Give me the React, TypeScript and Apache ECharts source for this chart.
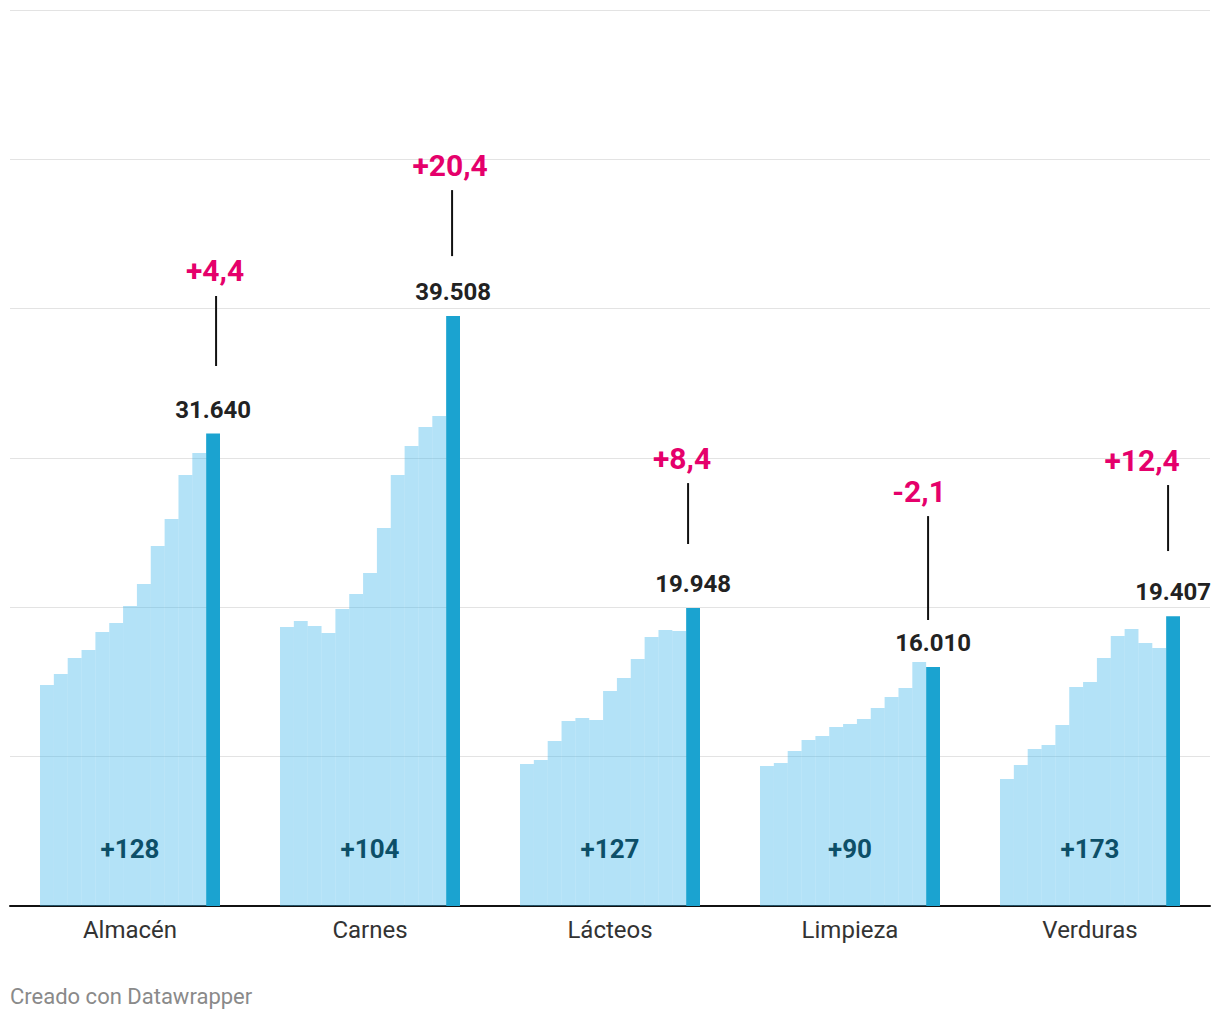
import React, { useEffect, useRef } from "react";
import * as echarts from "echarts";

const categories = ["Almacén", "Carnes", "Lácteos", "Limpieza", "Verduras"];

// 12 monthly values per category (light steps)
const almacen = [14800, 15535, 16606, 17142, 18347, 18950, 20088, 21561, 24106, 25914, 28860, 30333];
const carnes = [18682, 19084, 18749, 18280, 19887, 20892, 22298, 25311, 28860, 30802, 32074, 32810];
const lacteos = [9508, 9776, 11048, 12388, 12588, 12455, 14396, 15267, 16539, 18012, 18481, 18414];
const limpieza = [9374, 9575, 10379, 11115, 11383, 11986, 12187, 12522, 13258, 13995, 14597, 16338];
const verduras = [8504, 9441, 10513, 10781, 12120, 14664, 14999, 16606, 18079, 18548, 17610, 17276];

// latest value (dark bar)
const latest = [31640, 39508, 19948, 16010, 19407];
// percentage change (pink)
const changePct = [4.4, 20.4, 8.4, -2.1, 12.4];
// count difference (inside label)
const countDiff = [128, 104, 127, 90, 173];
// annotation connector extent, in data units
const annoBottom = [36160, 43520, 24240, 19150, 23770];
const annoTop = [40850, 47940, 28320, 26110, 28190];

const yTicks = [0, 10000, 20000, 30000, 40000, 50000, 60000];

// small visual nudges (px) of connector lines and pink labels
const lineNudge = [3, -1, -5, -5, -5];
const labelNudge = [-1, -2, -6, -9, -26];

const groups = [almacen, carnes, lacteos, limpieza, verduras];

const fmtThousands = (v: number) => String(v).replace(/\B(?=(\d{3})+(?!\d))/g, ".");
const fmtPct = (v: number) => (v > 0 ? "+" : "") + v.toFixed(1).replace(".", ",");
const fmtDiff = (v: number) => (v > 0 ? "+" : "") + v;

const LIGHT = "rgba(65,182,235,0.4)";
const DARK = "#1ba3d0";
const PINK = "#e5006b";
const FONT = "Roboto";

export default function App() {
  const ref = useRef<HTMLDivElement>(null);
  useEffect(() => {
    if (!ref.current) return;
    const chart = echarts.init(ref.current, undefined, { renderer: "svg" });
    const series: any[] = [];
    for (let i = 0; i < 12; i++) {
      const s: any = {
        type: "bar",
        name: "m" + i,
        data: groups.map((g) => g[i]),
        barGap: "0%",
        barCategoryGap: "25%",
        itemStyle: { color: LIGHT },
        silent: true,
      };
      if (i === 6) {
        s.z = 3;
        s.label = {
          show: true,
          position: "insideBottom",
          distance: 44,
          formatter: (p: any) => fmtDiff(countDiff[p.dataIndex]),
          color: "#0d4f68",
          fontSize: 26,
          fontWeight: "bold",
          fontFamily: FONT,
        };
      }
      series.push(s);
    }
    series.push({
      type: "bar",
      name: "latest",
      data: latest,
      barGap: "0%",
      barCategoryGap: "25%",
      itemStyle: { color: DARK },
      silent: true,
      z: 4,
      label: {
        show: true,
        position: "top",
        distance: 12,
        formatter: (p: any) => fmtThousands(p.value),
        color: "#222222",
        fontSize: 24,
        fontWeight: "bold",
        fontFamily: FONT,
      },
    });
    series.push({
      type: "custom",
      name: "annotations",
      z: 5,
      silent: true,
      clip: false,
      encode: { x: 0, y: [1, 2] },
      data: categories.map((c, k) => [k, annoBottom[k], annoTop[k]]),
      renderItem: (params: any, api: any) => {
        const k = params.dataIndex;
        const band = api.size([1, 0])[0];
        const groupW = band * 0.75;
        const barW = groupW / 13;
        const center = api.coord([k, 0])[0];
        const x = center - groupW / 2 + barW * 12.5 + lineNudge[k];
        const yB = api.coord([k, api.value(1)])[1];
        const yT = api.coord([k, api.value(2)])[1];
        return {
          type: "group",
          children: [
            {
              type: "line",
              shape: { x1: x, y1: yB, x2: x, y2: yT },
              style: { stroke: "#111111", lineWidth: 2 },
            },
            {
              type: "text",
              style: {
                text: fmtPct(changePct[k]),
                x: x + labelNudge[k],
                y: yT - 25,
                align: "center",
                verticalAlign: "middle",
                fill: PINK,
                fontSize: 30,
                fontWeight: "bold",
                fontFamily: FONT,
              },
            },
          ],
        };
      },
    });

    chart.setOption({
      animation: false,
      grid: { left: 10, right: 10, top: 10, bottom: 114, containLabel: false },
      xAxis: {
        type: "category",
        data: categories,
        axisLine: { lineStyle: { color: "#111111", width: 2 } },
        axisTick: { show: false },
        axisLabel: { color: "#333333", fontSize: 24, fontFamily: FONT, margin: 12 },
      },
      yAxis: {
        type: "value",
        min: yTicks[0],
        max: yTicks[yTicks.length - 1],
        interval: yTicks[1] - yTicks[0],
        axisLabel: { show: false },
        axisLine: { show: false },
        axisTick: { show: false },
        splitLine: { lineStyle: { color: "#e3e3e3", width: 1 } },
      },
      graphic: [
        {
          type: "text",
          left: 10,
          top: 985,
          style: { text: "Creado con Datawrapper", fill: "#8a8a8a", fontSize: 22, fontFamily: FONT },
        },
      ],
      series,
    });
    return () => chart.dispose();
  }, []);
  return (
    <div
      ref={ref}
      style={{ position: "fixed", left: 0, top: 0, width: 1220, height: 1020, background: "#ffffff" }}
    />
  );
}
